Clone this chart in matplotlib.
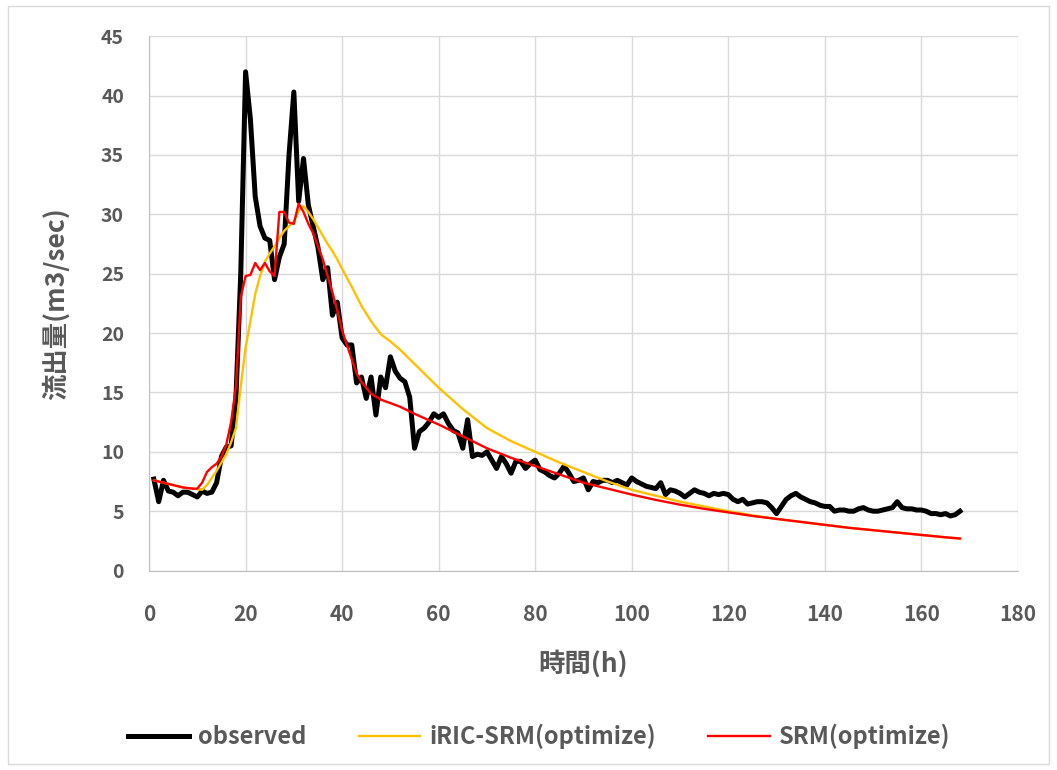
import numpy as np
import matplotlib
matplotlib.use("Agg")
import matplotlib.pyplot as plt
from matplotlib.patches import Rectangle

plt.rcParams['font.family'] = ['Noto Sans CJK JP', 'DejaVu Sans']

# observed discharge, hourly from 1 h to 168 h
obs_hours = list(range(1, 169))
observed = [
    7.7, 5.8, 7.6, 6.7, 6.6, 6.3, 6.6, 6.6, 6.4, 6.2, 6.7, 6.5, 6.6, 7.4, 9.6, 10.4, 10.5, 14.5, 25.0, 42.0,
    38.0, 31.5, 29.0, 28.0, 27.8, 24.5, 26.4, 27.5, 35.0, 40.3, 31.1, 34.7, 30.8, 29.0, 27.2, 24.5, 25.5, 21.5, 22.6, 19.6,
    19.0, 19.0, 15.8, 16.3, 14.5, 16.3, 13.1, 16.3, 15.4, 18.0, 16.8, 16.2, 15.9, 14.6, 10.3, 11.7, 12.0, 12.5, 13.2, 12.9,
    13.2, 12.4, 11.8, 11.6, 10.3, 12.7, 9.6, 9.8, 9.7, 10.0, 9.3, 8.6, 9.6, 9.0, 8.2, 9.2, 9.2, 8.6, 9.0, 9.3,
    8.5, 8.3, 8.0, 7.8, 8.2, 8.8, 8.2, 7.5, 7.6, 7.8, 6.8, 7.5, 7.4, 7.6, 7.6, 7.4, 7.6, 7.4, 7.2, 7.8,
    7.5, 7.3, 7.1, 7.0, 6.9, 7.4, 6.4, 6.8, 6.7, 6.5, 6.2, 6.5, 6.8, 6.6, 6.5, 6.3, 6.5, 6.4, 6.5, 6.4,
    6.0, 5.8, 6.0, 5.6, 5.7, 5.8, 5.8, 5.7, 5.3, 4.8, 5.4, 6.0, 6.3, 6.5, 6.2, 6.0, 5.8, 5.7, 5.5, 5.4,
    5.4, 5.0, 5.1, 5.1, 5.0, 5.0, 5.2, 5.3, 5.1, 5.0, 5.0, 5.1, 5.2, 5.3, 5.8, 5.3, 5.2, 5.2, 5.1, 5.1,
    5.0, 4.8, 4.8, 4.7, 4.8, 4.6, 4.7, 5.0,
]

# iRIC-SRM (optimize)
iric_hours = list(range(1, 41)) + [42, 44, 46, 48, 50, 52, 55, 60, 65, 70, 75, 80, 85, 90, 95, 100,
                                   105, 110, 115, 120, 125, 130, 135, 140, 145, 150, 155, 160, 165, 168]
iric = [
    7.6, 7.5, 7.4, 7.3, 7.2, 7.1, 7.0, 6.95, 6.9, 6.85, 6.8, 7.2, 7.8, 8.4, 9.1, 9.8, 10.8, 12.0, 15.5, 18.8,
    21.0, 23.3, 24.8, 26.0, 26.7, 27.3, 28.0, 28.6, 29.0, 29.4, 30.3, 30.7, 30.2, 29.6, 28.9, 28.2, 27.5, 26.9, 26.2, 25.4,
    23.9, 22.3, 21.0, 19.9, 19.3, 18.6, 17.4, 15.4, 13.6, 12.0, 10.9, 10.0, 9.1, 8.3, 7.5, 6.8,
    6.3, 5.8, 5.4, 5.0, 4.65, 4.35, 4.1, 3.85, 3.6, 3.4, 3.2, 3.0, 2.8, 2.7,
]

# SRM (optimize)
srm_hours = list(range(1, 45)) + [46, 48, 50, 52, 55, 60, 65, 70, 75, 80, 85, 90, 95, 100,
                                  105, 110, 115, 120, 125, 130, 135, 140, 145, 150, 155, 160, 165, 168]
srm = [
    7.6, 7.5, 7.4, 7.3, 7.2, 7.1, 7.0, 6.95, 6.9, 6.9, 7.4, 8.3, 8.7, 9.0, 9.6, 10.6, 12.5, 15.5, 23.0, 24.8,
    24.9, 25.9, 25.3, 25.9, 25.2, 24.8, 30.2, 30.2, 29.3, 29.2, 30.9, 30.2, 29.2, 28.4, 27.3, 26.2, 24.8, 23.4, 21.9, 20.2,
    19.0, 17.8, 16.6, 15.9,
    14.9, 14.4, 14.1, 13.8, 13.2, 12.3, 11.3, 10.3, 9.5, 8.8, 8.1, 7.4, 6.9, 6.4,
    5.95, 5.55, 5.2, 4.9, 4.6, 4.35, 4.1, 3.85, 3.6, 3.4, 3.2, 3.0, 2.8, 2.7,
]

x_ticks = np.arange(0, 181, 20)
y_ticks = np.arange(0, 46, 5)

txt = '#595959'
grid = '#D9D9D9'

fig = plt.figure(figsize=(10.57, 7.70), dpi=100)
ax = fig.add_axes([0.141, 0.259, 0.822, 0.694])

ax.plot(obs_hours, observed, color='black', lw=3.6, label='observed', zorder=3)
ax.plot(iric_hours, iric, color='#FFC000', lw=1.7, label='iRIC-SRM(optimize)', zorder=4)
ax.plot(srm_hours, srm, color='#FF0000', lw=1.7, label='SRM(optimize)', zorder=5)

ax.set_xlim(0, 180)
ax.set_ylim(0, 45)
ax.set_xticks(x_ticks)
ax.set_yticks(y_ticks)
ax.grid(True, color=grid, lw=1.0)
ax.set_axisbelow(True)
for s in ['top', 'right']:
    ax.spines[s].set_visible(False)
for s in ['left', 'bottom']:
    ax.spines[s].set_color('#BFBFBF')
ax.tick_params(length=0, colors=txt, labelsize=14)
ax.tick_params(axis='x', pad=24, labelsize=15)
ax.tick_params(axis='y', pad=18)
for lab in ax.get_xticklabels() + ax.get_yticklabels():
    lab.set_fontweight('bold')

ax.set_xlabel('時間(h)', fontsize=19, fontweight='bold', color=txt, labelpad=18)
ax.set_ylabel('流出量(m3/sec)', fontsize=19, fontweight='bold', color=txt, labelpad=22)

fig.legend(loc='center', bbox_to_anchor=(0.51, 0.044), ncol=3, frameon=False,
           prop={'weight': 'bold', 'size': 17}, labelcolor=txt,
           handlelength=2.6, columnspacing=2.2, handletextpad=0.4)

fig.patches.append(Rectangle((0.008, 0.008), 0.984, 0.984, transform=fig.transFigure,
                             fill=False, edgecolor='#D9D9D9', lw=1.0))

fig.savefig('out.png', dpi=100)
